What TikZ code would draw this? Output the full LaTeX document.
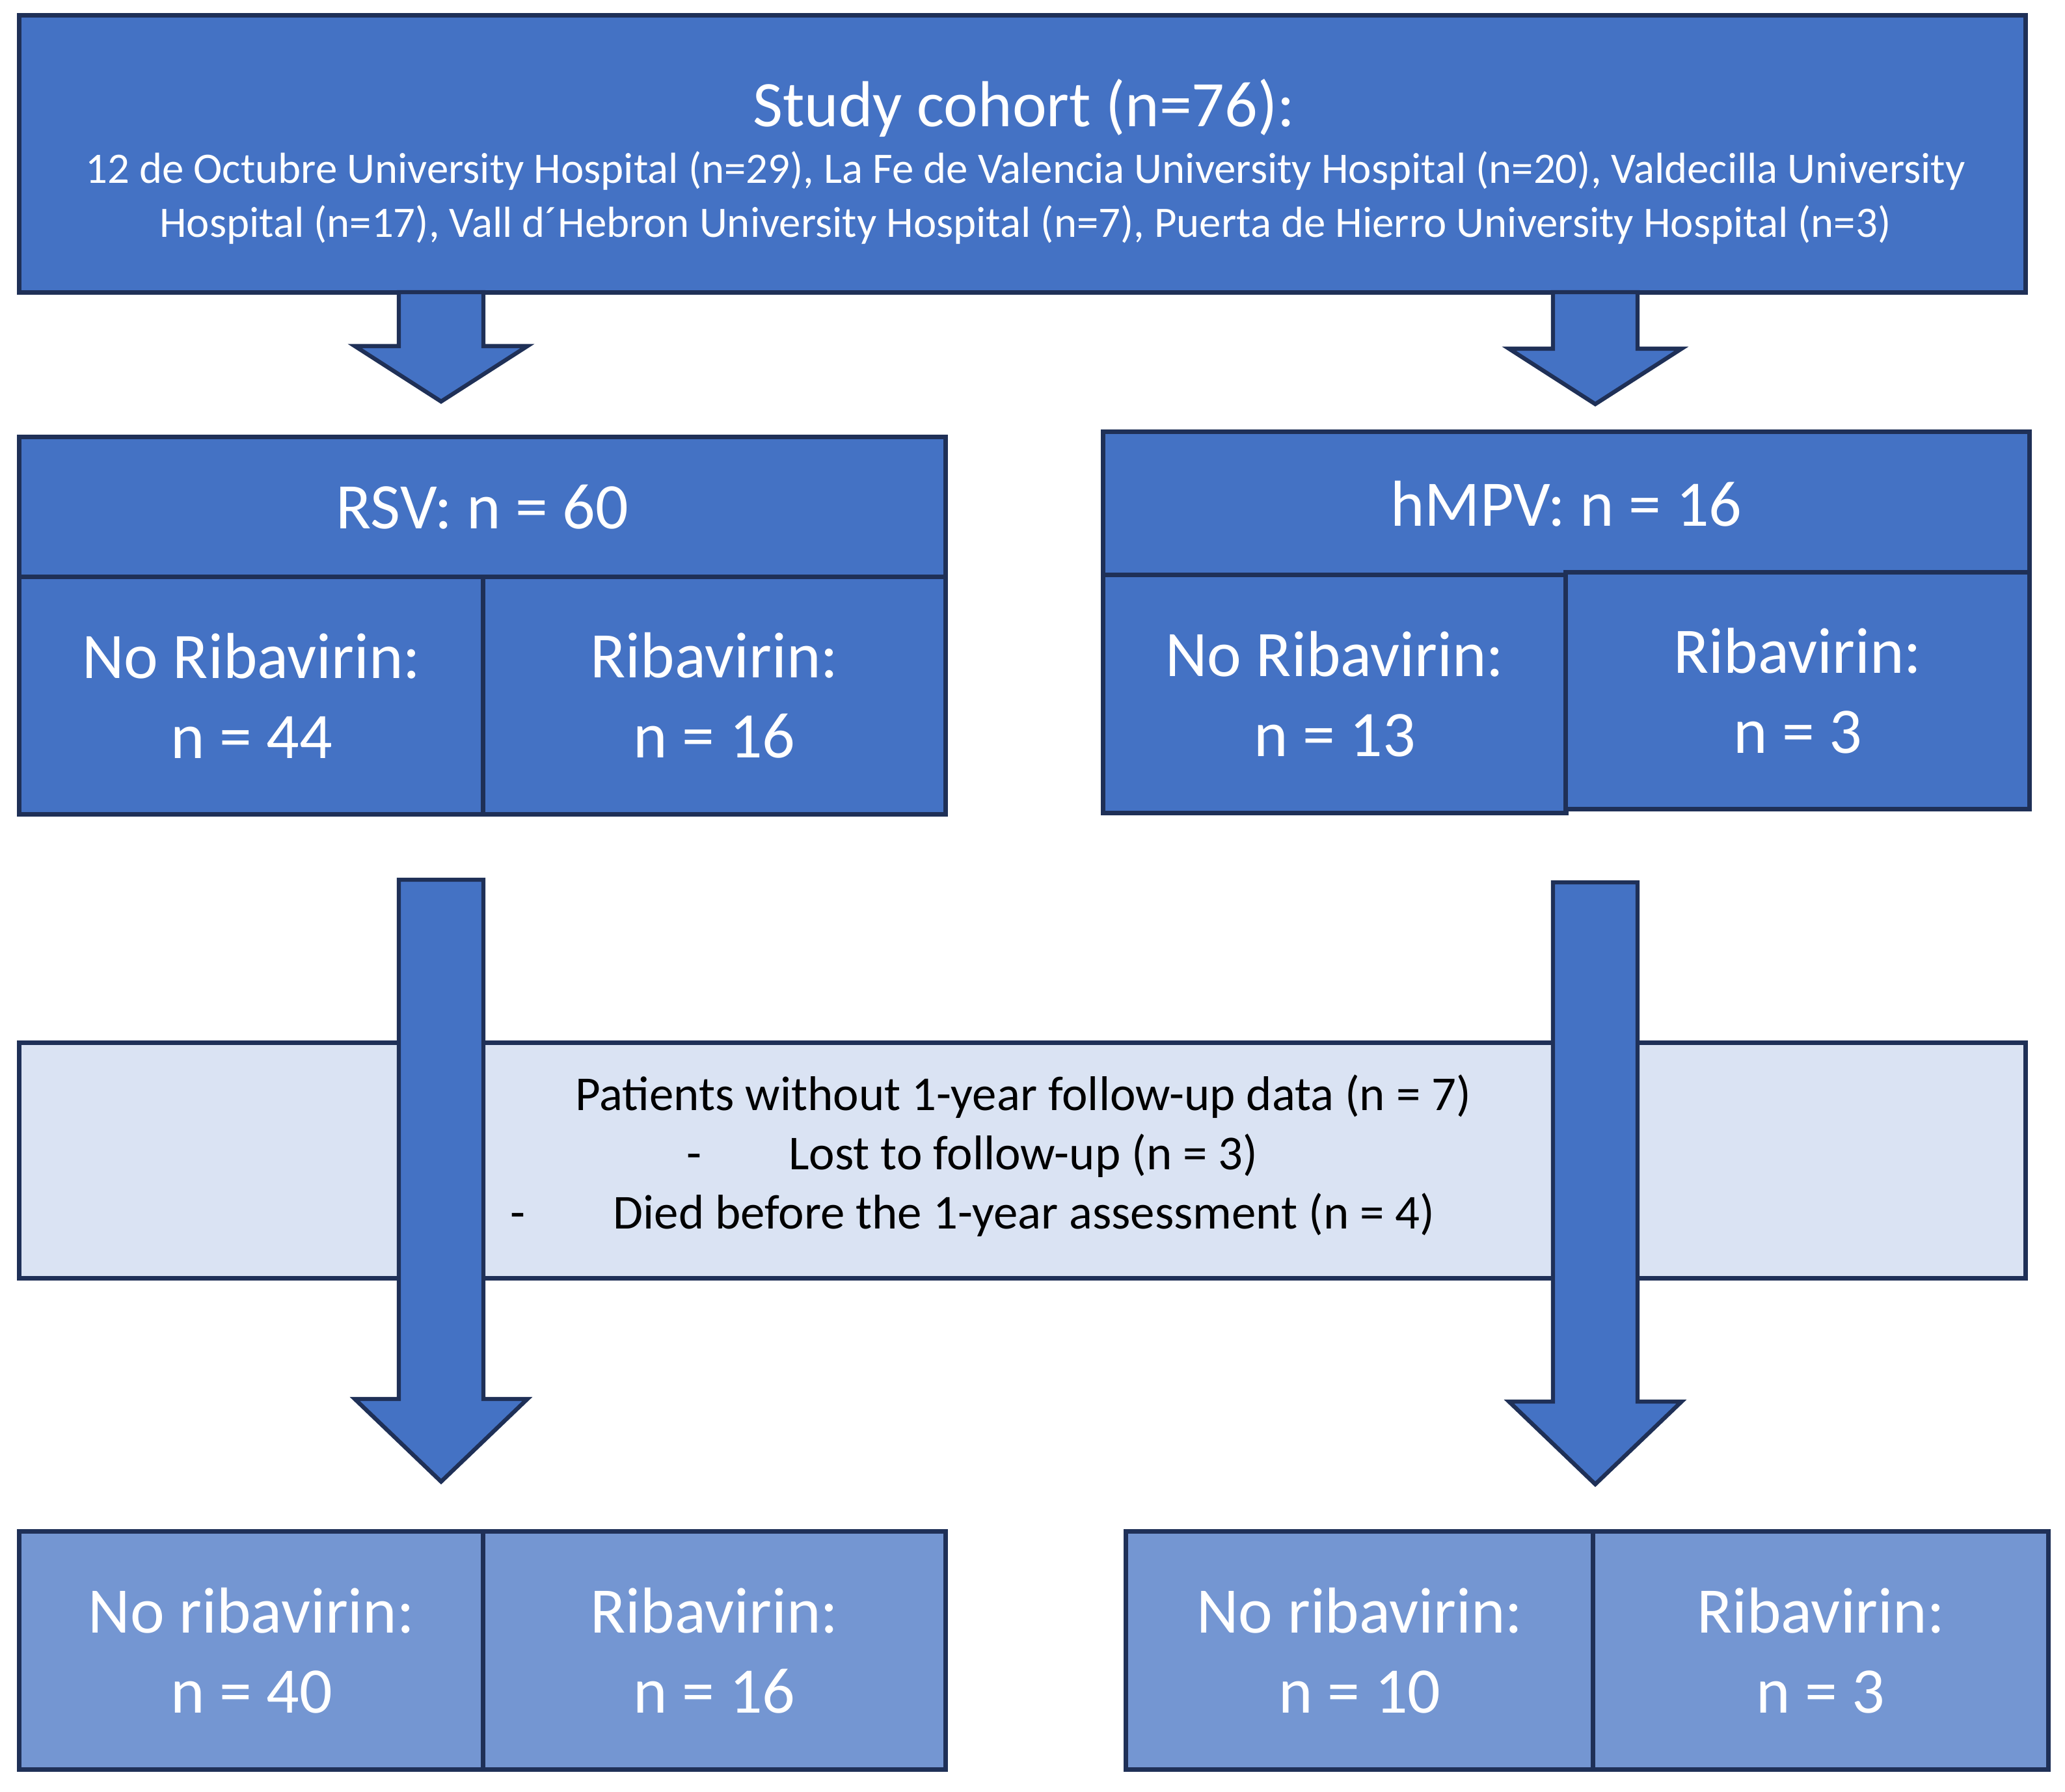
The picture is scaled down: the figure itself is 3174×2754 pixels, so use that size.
\documentclass[tikz,border=0pt]{standalone}
\usepackage{fontspec}
\setmainfont{Carlito}
\usetikzlibrary{calc}
\definecolor{fillblue}{HTML}{4472C4}
\definecolor{navy}{HTML}{1F3057}
\definecolor{lightfill}{HTML}{DAE3F3}
\definecolor{softblue}{HTML}{7496D2}
\newcommand\blockarrow[3]{%
  \draw[barrow] let \p1=(#1), \p2=(#2) in
   (\x1-18.5pt,\y1) -- (\x1-18.5pt,\y2+#3) -- (\x1-37.7pt,\y2+#3) -- (\x1,\y2)
   -- (\x1+37.7pt,\y2+#3) -- (\x1+18.5pt,\y2+#3) -- (\x1+18.5pt,\y1) -- cycle;}
\begin{document}
\begin{tikzpicture}[x=0.01cm,y=-0.01cm,
  box/.style={draw=navy, line width=2pt, fill=fillblue, inner sep=0pt, outer sep=0pt, text=white},
  softbox/.style={box, fill=softblue},
  lightbox/.style={draw=navy, line width=2pt, fill=lightfill, inner sep=0pt, outer sep=0pt},
  big/.style={font=\fontsize{28.4}{35}\selectfont},
  sub/.style={font=\fontsize{19}{24}\selectfont, text=white, inner sep=0pt},
  mid/.style={font=\fontsize{21.3}{26}\selectfont, text=black, inner sep=0pt},
  barrow/.style={draw=navy, line width=1.8pt, fill=fillblue, line join=miter},
  cell/.style={align=center, big}
]
\useasboundingbox[fill=white] (0,0) rectangle (3174,2754);

% top box
\node[box, minimum width=30.83cm, minimum height=4.25cm] (cohort) at (1571.5,236.5) {};
\node[big, text=white, anchor=base, inner sep=0pt] (title) at (1574,194) {Study cohort (n=76):};
\node[sub, anchor=base] (sub1) at (1576,281) {12 de Octubre University Hospital (n=29), La Fe de Valencia University Hospital (n=20), Valdecilla University};
\node[sub, anchor=base] (sub2) at (1576,364) {Hospital (n=17), Vall d´Hebron University Hospital (n=7), Puerta de Hierro University Hospital (n=3)};

% RSV block
\node[box, big, minimum width=14.23cm, minimum height=2.15cm] (rsv) at (741.5,779.5) {RSV: n = 60};
\node[box, cell, minimum width=7.13cm, minimum height=3.64cm] (rsvno) at (386.5,1069) {No Ribavirin:\\n = 44};
\node[box, cell, minimum width=7.10cm, minimum height=3.64cm] (rsvyes) at (1098,1069) {Ribavirin:\\n = 16};

% hMPV block
\node[box, big, minimum width=14.23cm, minimum height=2.20cm] (hmpv) at (2407.5,774) {hMPV: n = 16};
\node[box, cell, minimum width=7.11cm, minimum height=3.65cm] (hmpvno) at (2051.5,1066.5) {No Ribavirin:\\n = 13};
\node[box, cell, minimum width=7.12cm, minimum height=3.63cm] (hmpvyes) at (2763,1061.5) {Ribavirin:\\n = 3};

% exclusion box
\node[lightbox, minimum width=30.83cm, minimum height=3.61cm] (excl) at (1571.5,1783.5) {};
\node[mid, anchor=base] (exclt) at (1573,1706) {Patients without 1-year follow-up data (n = 7)};
\node[mid, anchor=base] (lost) at (1573,1797) {Lost to follow-up (n = 3)};
\node[mid, anchor=base] (died) at (1574,1888) {Died before the 1-year assessment (n = 4)};
\node[mid, anchor=base] (dash1) at (1067,1797) {-};
\node[mid, anchor=base] (dash2) at (796,1888) {-};

% arrows
\coordinate (a1s) at (678,449);  \coordinate (a1e) at (678,617);
\coordinate (a2s) at (2452,449); \coordinate (a2e) at (2452,621);
\coordinate (a3s) at (678,1352); \coordinate (a3e) at (678,2277);
\coordinate (a4s) at (2452,1356); \coordinate (a4e) at (2452,2281);
\blockarrow{a1s}{a1e}{24.2pt}
\blockarrow{a2s}{a2e}{24.2pt}
\blockarrow{a3s}{a3e}{36.1pt}
\blockarrow{a4s}{a4e}{36.1pt}

% bottom boxes
\node[softbox, cell, minimum width=7.13cm, minimum height=3.65cm] (rsvno2) at (386.5,2536.5) {No ribavirin:\\n = 40};
\node[softbox, cell, minimum width=7.10cm, minimum height=3.65cm] (rsvyes2) at (1098,2536.5) {Ribavirin:\\n = 16};
\node[softbox, cell, minimum width=7.18cm, minimum height=3.65cm] (hmpvno2) at (2090,2536.5) {No ribavirin:\\n = 10};
\node[softbox, cell, minimum width=6.99cm, minimum height=3.65cm] (hmpvyes2) at (2798.5,2536.5) {Ribavirin:\\n = 3};
\end{tikzpicture}
\end{document}
